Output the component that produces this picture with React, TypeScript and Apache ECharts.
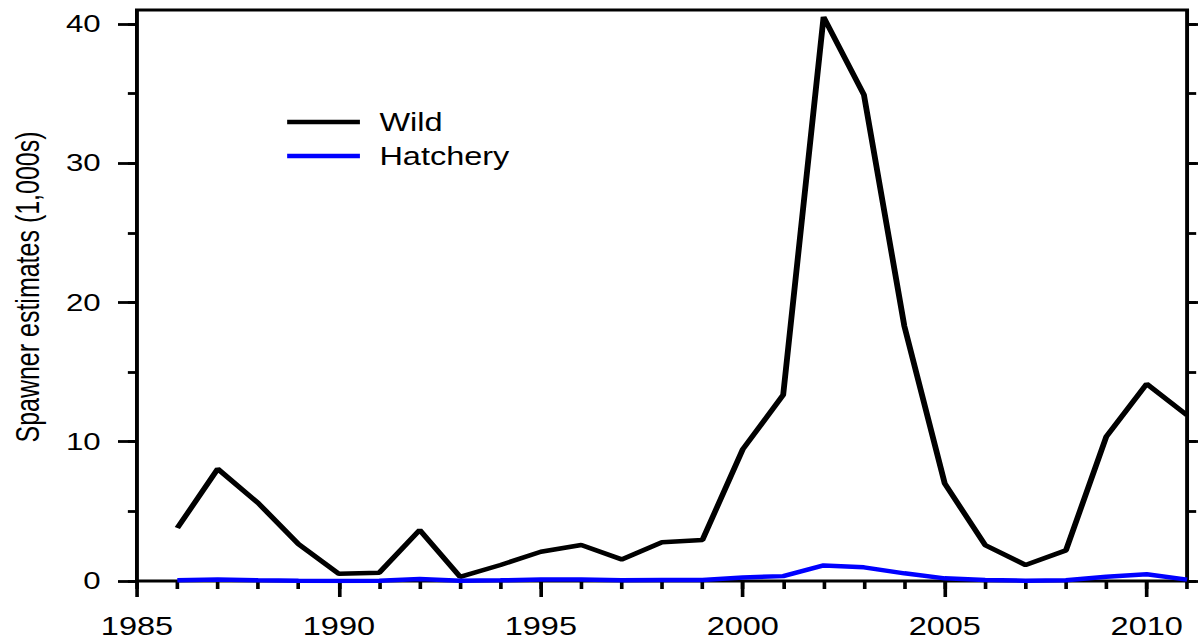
import React, { useEffect, useRef } from "react";
import * as echarts from "echarts";

const years = [1986, 1987, 1988, 1989, 1990, 1991, 1992, 1993, 1994, 1995, 1996, 1997, 1998, 1999, 2000, 2001, 2002, 2003, 2004, 2005, 2006, 2007, 2008, 2009, 2010, 2011];
const wild = [3.8, 8.05, 5.6, 2.65, 0.52, 0.6, 3.66, 0.3, 1.15, 2.1, 2.58, 1.55, 2.78, 2.94, 9.46, 13.36, 40.5, 34.9, 18.3, 7.0, 2.58, 1.15, 2.2, 10.36, 14.15, 11.9];
const hatchery = [0.05, 0.1, 0.05, 0.02, 0, 0.02, 0.15, 0.02, 0.05, 0.1, 0.1, 0.05, 0.07, 0.07, 0.25, 0.35, 1.12, 0.98, 0.55, 0.19, 0.07, 0.02, 0.05, 0.3, 0.48, 0.1];

const xMajorTicks = [1985, 1990, 1995, 2000, 2005, 2010];
const xMinorTicks = [1985, 1986, 1987, 1988, 1989, 1990, 1991, 1992, 1993, 1994, 1995, 1996, 1997, 1998, 1999, 2000, 2001, 2002, 2003, 2004, 2005, 2006, 2007, 2008, 2009, 2010, 2011];
const yMajorTicks = [0, 10, 20, 30, 40];
const yMinorTicks = [0, 5, 10, 15, 20, 25, 30, 35, 40];

const seriesNames = ["Wild", "Hatchery"];
const yTitle = "Spawner estimates (1,000s)";

const FONT = "'Liberation Sans', Arial, Helvetica, sans-serif";
const W = 922;
const H = 640;
const SX = 1198 / W;

export default function App() {
  const ref = useRef<HTMLDivElement>(null);
  useEffect(() => {
    if (!ref.current) return;
    const chart = echarts.init(ref.current, undefined, { renderer: "svg" });
    const tickStyle = { color: "#000", width: 2.8 };
    const xBase = {
      type: "value" as const,
      min: 1985,
      max: 2011,
      position: "bottom" as const,
      axisLine: { show: false, onZero: false },
      splitLine: { show: false },
    };
    const yBase = {
      type: "value" as const,
      min: 0,
      max: 41,
      axisLine: { show: false, onZero: false },
      splitLine: { show: false },
    };
    chart.setOption({
      animation: false,
      backgroundColor: "#fff",
      grid: {
        left: 105.4,
        right: 8.4,
        top: 10,
        bottom: 59,
        show: true,
        borderColor: "#000",
        borderWidth: 3,
        containLabel: false,
      },
      legend: {
        orient: "vertical",
        left: 221,
        top: 109.5,
        padding: 0,
        itemWidth: 56,
        itemHeight: 4.5,
        itemGap: 9,
        icon: "rect",
        textStyle: { fontSize: 25, color: "#000", fontFamily: FONT, padding: [0, 0, 0, 10] },
        data: seriesNames,
      },
      xAxis: [
        {
          ...xBase,
          axisTick: { show: true, customValues: xMinorTicks, length: 8, lineStyle: tickStyle },
          axisLabel: {
            customValues: xMajorTicks,
            margin: 33,
            fontSize: 25,
            color: "#000",
            fontFamily: FONT,
            formatter: (v: number) => String(v),
          },
        },
        {
          ...xBase,
          axisTick: { show: true, customValues: xMajorTicks, length: 16, lineStyle: tickStyle },
          axisLabel: { show: false },
        },
      ],
      yAxis: [
        {
          ...yBase,
          position: "left",
          axisTick: { show: true, customValues: yMinorTicks, length: 7, lineStyle: tickStyle },
          axisLabel: {
            customValues: yMajorTicks,
            margin: 28,
            fontSize: 24,
            color: "#000",
            fontFamily: FONT,
            formatter: (v: number) => String(v),
          },
        },
        {
          ...yBase,
          position: "left",
          axisTick: { show: true, customValues: yMajorTicks, length: 14.6, lineStyle: tickStyle },
          axisLabel: { show: false },
        },
        {
          ...yBase,
          position: "right",
          axisTick: { show: true, customValues: yMinorTicks, length: 7, lineStyle: tickStyle },
          axisLabel: { show: false },
        },
        {
          ...yBase,
          position: "right",
          axisTick: { show: true, customValues: yMajorTicks, length: 14.6, lineStyle: tickStyle },
          axisLabel: { show: false },
        },
      ],
      graphic: [
        {
          type: "text",
          x: 21.5,
          y: 287,
          rotation: Math.PI / 2,
          style: {
            text: yTitle,
            fontSize: 25,
            fontFamily: FONT,
            fill: "#000",
            align: "center",
            verticalAlign: "middle",
          },
        },
      ],
      series: [
        {
          name: seriesNames[0],
          type: "line",
          data: years.map((y, i) => [y, wild[i]]),
          showSymbol: false,
          symbol: "none",
          color: "#000",
          lineStyle: { color: "#000", width: 4.5 },
          xAxisIndex: 0,
          yAxisIndex: 0,
        },
        {
          name: seriesNames[1],
          type: "line",
          data: years.map((y, i) => [y, hatchery[i]]),
          showSymbol: false,
          symbol: "none",
          color: "#0000ff",
          lineStyle: { color: "#0000ff", width: 4.5 },
          xAxisIndex: 0,
          yAxisIndex: 0,
        },
      ],
    });
    return () => chart.dispose();
  }, []);
  return (
    <div
      ref={ref}
      style={{
        position: "absolute",
        left: 0,
        top: 0,
        width: W,
        height: H,
        transform: `scaleX(${SX})`,
        transformOrigin: "0 0",
      }}
    />
  );
}
